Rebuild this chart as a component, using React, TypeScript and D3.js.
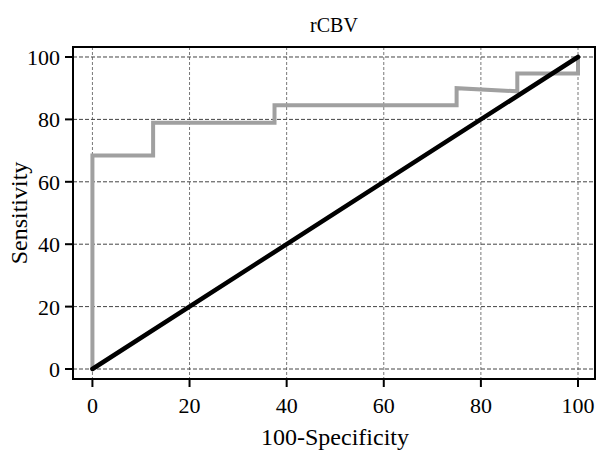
import React from "react";
import * as d3 from "d3";

const rocX = [0, 0, 12.5, 12.5, 37.5, 37.5, 75, 75, 87.5, 87.5, 100, 100];
const rocY = [0, 68.4, 68.4, 78.9, 78.9, 84.5, 84.5, 90, 89, 94.7, 94.7, 100];
const refX = [0, 100];
const refY = [0, 100];
const xTicks = [0, 20, 40, 60, 80, 100];
const yTicks = [0, 20, 40, 60, 80, 100];
const title = "rCBV";
const xLabel = "100-Specificity";
const yLabel = "Sensitivity";

const W = 597;
const H = 450;
const FONT = "'Liberation Serif', 'Times New Roman', serif";

export default function App() {
  const x = d3.scaleLinear().domain([-4, 103.5]).range([73, 595]);
  const y = d3.scaleLinear().domain([-3.2, 103.2]).range([379, 47]);
  const [x0, x1] = x.range();
  const [y0, y1] = y.range();
  const line = d3
    .line<[number, number]>()
    .x((d) => x(d[0]))
    .y((d) => y(d[1]));
  const rocPts = rocX.map((v, i) => [v, rocY[i]] as [number, number]);
  const refPts = refX.map((v, i) => [v, refY[i]] as [number, number]);

  return (
    <svg
      width={W}
      height={H}
      style={{ position: "absolute", left: 0, top: 0, background: "#fff" }}
      fontFamily={FONT}
    >
      <rect x={0} y={0} width={W} height={H} fill="#fff" />
      {xTicks.map((t) => (
        <line
          key={"gx" + t}
          x1={x(t)}
          x2={x(t)}
          y1={y1}
          y2={y0}
          stroke="#777"
          strokeWidth={1}
          strokeDasharray="3,2"
        />
      ))}
      {yTicks.map((t) => (
        <line
          key={"gy" + t}
          x1={x0}
          x2={x1}
          y1={y(t)}
          y2={y(t)}
          stroke="#444"
          strokeWidth={1}
          strokeDasharray="4,2"
        />
      ))}
      <path d={line(rocPts) || ""} fill="none" stroke="#a0a0a0" strokeWidth={4} strokeLinejoin="miter" />
      <path d={line(refPts) || ""} fill="none" stroke="#000" strokeWidth={4.5} strokeLinecap="round" />
      <rect x={x0} y={y1} width={x1 - x0} height={y0 - y1} fill="none" stroke="#000" strokeWidth={2} />
      {xTicks.map((t) => (
        <g key={"tx" + t}>
          <line x1={x(t)} x2={x(t)} y1={y0} y2={y0 + 8} stroke="#000" strokeWidth={2} />
          <text x={x(t)} y={413} textAnchor="middle" fontSize={22} fill="#000">
            {t}
          </text>
        </g>
      ))}
      {yTicks.map((t) => (
        <g key={"ty" + t}>
          <line x1={x0 - 8} x2={x0} y1={y(t)} y2={y(t)} stroke="#000" strokeWidth={2} />
          <text x={60} y={y(t) + 8} textAnchor="end" fontSize={22} fill="#000">
            {t}
          </text>
        </g>
      ))}
      <text x={(x0 + x1) / 2} y={32} textAnchor="middle" fontSize={20} fill="#000">
        {title}
      </text>
      <text x={(x0 + x1) / 2 + 1} y={445} textAnchor="middle" fontSize={24} fill="#000">
        {xLabel}
      </text>
      <text
        transform={`translate(27,${(y0 + y1) / 2}) rotate(-90)`}
        textAnchor="middle"
        fontSize={24}
        fill="#000"
      >
        {yLabel}
      </text>
    </svg>
  );
}
